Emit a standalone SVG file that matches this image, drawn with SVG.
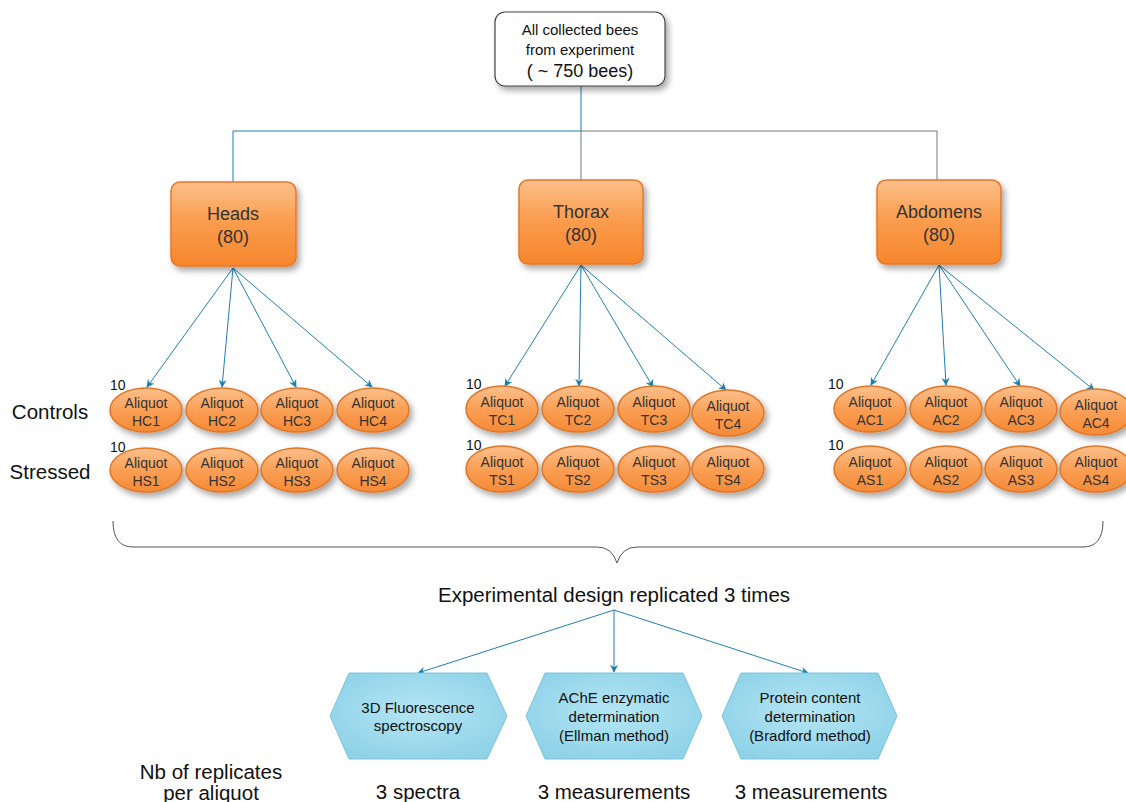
<svg xmlns="http://www.w3.org/2000/svg" width="1126" height="802" viewBox="0 0 1126 802">
<defs>
<linearGradient id="gBox" x1="0" y1="0" x2="0" y2="1">
<stop offset="0" stop-color="#fcc08a"/><stop offset="0.45" stop-color="#fa9e50"/><stop offset="1" stop-color="#f6862c"/>
</linearGradient>
<linearGradient id="gEl" x1="0" y1="0" x2="0" y2="1">
<stop offset="0" stop-color="#fcc08c"/><stop offset="0.5" stop-color="#fa9f55"/><stop offset="1" stop-color="#f58a35"/>
</linearGradient>
<radialGradient id="gHex" cx="0.5" cy="0.45" r="0.6">
<stop offset="0" stop-color="#b4e6f4"/><stop offset="1" stop-color="#8fd2e8"/>
</radialGradient>
<filter id="sh" x="-20%" y="-20%" width="150%" height="160%">
<feGaussianBlur in="SourceAlpha" stdDeviation="3"/>
<feOffset dx="3" dy="4" result="b"/>
<feComponentTransfer><feFuncA type="linear" slope="0.35"/></feComponentTransfer>
<feMerge><feMergeNode/><feMergeNode in="SourceGraphic"/></feMerge>
</filter>
<marker id="ar" viewBox="0 0 10 10" refX="9" refY="5" markerWidth="8" markerHeight="8" orient="auto" markerUnits="userSpaceOnUse">
<path d="M0,0 L10,5 L0,10 L3,5 Z" fill="#1f7fb0"/>
</marker>
</defs>
<style>
text{font-family:"Liberation Sans",Arial,sans-serif;fill:#222;text-anchor:middle}
.box{fill:url(#gBox);stroke:#e8772a;stroke-width:1.5}
.el{fill:url(#gEl);stroke:#e07628;stroke-width:1.5}
.hex{fill:url(#gHex);stroke:#7cc4dc;stroke-width:1}
.a{stroke:#1f7fb0;stroke-width:1;fill:none;marker-end:url(#ar)}
.t{font-size:14px;fill:#333}
.h{font-size:15px;fill:#111}
.bt{font-size:18px;fill:#333}
.big{font-size:20.5px;fill:#111}
.ten{font-size:14px;fill:#111;text-anchor:start}
</style>
<rect width="1126" height="802" fill="#fff"/>

<g id="connectors">
<path d="M581,86 V131 H233 V182" stroke="#1f7fb0" stroke-width="1" fill="none"/>
<path d="M581,131 H937 V180 M581,131 V180" stroke="#777" stroke-width="1" fill="none"/>
<path class="a" d="M233,268 L147,387"/>
<path class="a" d="M233,268 L222,387"/>
<path class="a" d="M233,268 L296,387"/>
<path class="a" d="M233,268 L372,387"/>
<path class="a" d="M581,265 L505,386"/>
<path class="a" d="M581,265 L579,386"/>
<path class="a" d="M581,265 L653,387"/>
<path class="a" d="M581,265 L726,390"/>
<path class="a" d="M939,265 L871,385"/>
<path class="a" d="M939,265 L946,385"/>
<path class="a" d="M939,265 L1020,386"/>
<path class="a" d="M939,265 L1094,390"/>
<path class="a" d="M614,610 L418,673"/>
<path class="a" d="M614,610 L614,672"/>
<path class="a" d="M614,610 L808,673"/>
<path d="M113,521 Q113,547 133,547 H597 Q612,547 617,563 Q622,547 637,547 H1083 Q1103,547 1103,521" stroke="#555" stroke-width="1" fill="none"/>
</g>

<g id="top">
<rect x="495" y="12" width="170" height="74" rx="10" fill="#fff" stroke="#444" stroke-width="1.2" filter="url(#sh)"/>
<text x="580" y="35" style="font-size:15px;fill:#111">All collected bees</text>
<text x="580" y="55" style="font-size:15px;fill:#111">from experiment</text>
<text x="580" y="77" style="font-size:18px;fill:#111">( ~ 750 bees)</text>
</g>

<g id="heads"><rect class="box" x="171" y="182" width="125" height="84" rx="9" filter="url(#sh)"/>
<text x="233" y="220" class="bt">Heads</text><text x="233" y="243" class="bt">(80)</text></g>
<g id="thorax"><rect class="box" x="519" y="180" width="124" height="84" rx="9" filter="url(#sh)"/>
<text x="581" y="218" class="bt">Thorax</text><text x="581" y="241" class="bt">(80)</text></g>
<g id="abdomens"><rect class="box" x="877" y="180" width="124" height="84" rx="9" filter="url(#sh)"/>
<text x="939" y="218" class="bt">Abdomens</text><text x="939" y="241" class="bt">(80)</text></g>

<text x="50" y="419" class="big">Controls</text>
<text x="50" y="479" class="big">Stressed</text>
<text x="110" y="390" class="ten">10</text>
<text x="110" y="452" class="ten">10</text>
<text x="466" y="389" class="ten">10</text>
<text x="466" y="450" class="ten">10</text>
<text x="828" y="389" class="ten">10</text>
<text x="828" y="450" class="ten">10</text>

<g id="HC1"><ellipse class="el" cx="146" cy="410" rx="36" ry="22" filter="url(#sh)"/><text x="146" y="408" class="t">Aliquot</text><text x="146" y="426" class="t">HC1</text></g>
<g id="HC2"><ellipse class="el" cx="222" cy="410" rx="36" ry="22" filter="url(#sh)"/><text x="222" y="408" class="t">Aliquot</text><text x="222" y="426" class="t">HC2</text></g>
<g id="HC3"><ellipse class="el" cx="297" cy="410" rx="36" ry="22" filter="url(#sh)"/><text x="297" y="408" class="t">Aliquot</text><text x="297" y="426" class="t">HC3</text></g>
<g id="HC4"><ellipse class="el" cx="373" cy="410" rx="36" ry="22" filter="url(#sh)"/><text x="373" y="408" class="t">Aliquot</text><text x="373" y="426" class="t">HC4</text></g>
<g id="HS1"><ellipse class="el" cx="146" cy="470" rx="36" ry="22" filter="url(#sh)"/><text x="146" y="468" class="t">Aliquot</text><text x="146" y="486" class="t">HS1</text></g>
<g id="HS2"><ellipse class="el" cx="222" cy="470" rx="36" ry="22" filter="url(#sh)"/><text x="222" y="468" class="t">Aliquot</text><text x="222" y="486" class="t">HS2</text></g>
<g id="HS3"><ellipse class="el" cx="297" cy="470" rx="36" ry="22" filter="url(#sh)"/><text x="297" y="468" class="t">Aliquot</text><text x="297" y="486" class="t">HS3</text></g>
<g id="HS4"><ellipse class="el" cx="373" cy="470" rx="36" ry="22" filter="url(#sh)"/><text x="373" y="468" class="t">Aliquot</text><text x="373" y="486" class="t">HS4</text></g>

<g id="TC1"><ellipse class="el" cx="502" cy="409" rx="36" ry="23" filter="url(#sh)"/><text x="502" y="407" class="t">Aliquot</text><text x="502" y="425" class="t">TC1</text></g>
<g id="TC2"><ellipse class="el" cx="578" cy="409" rx="36" ry="23" filter="url(#sh)"/><text x="578" y="407" class="t">Aliquot</text><text x="578" y="425" class="t">TC2</text></g>
<g id="TC3"><ellipse class="el" cx="654" cy="409" rx="36" ry="23" filter="url(#sh)"/><text x="654" y="407" class="t">Aliquot</text><text x="654" y="425" class="t">TC3</text></g>
<g id="TC4"><ellipse class="el" cx="728" cy="413" rx="36" ry="23" filter="url(#sh)"/><text x="728" y="411" class="t">Aliquot</text><text x="728" y="429" class="t">TC4</text></g>
<g id="TS1"><ellipse class="el" cx="502" cy="469" rx="36" ry="23" filter="url(#sh)"/><text x="502" y="467" class="t">Aliquot</text><text x="502" y="485" class="t">TS1</text></g>
<g id="TS2"><ellipse class="el" cx="578" cy="469" rx="36" ry="23" filter="url(#sh)"/><text x="578" y="467" class="t">Aliquot</text><text x="578" y="485" class="t">TS2</text></g>
<g id="TS3"><ellipse class="el" cx="654" cy="469" rx="36" ry="23" filter="url(#sh)"/><text x="654" y="467" class="t">Aliquot</text><text x="654" y="485" class="t">TS3</text></g>
<g id="TS4"><ellipse class="el" cx="728" cy="469" rx="36" ry="23" filter="url(#sh)"/><text x="728" y="467" class="t">Aliquot</text><text x="728" y="485" class="t">TS4</text></g>

<g id="AC1"><ellipse class="el" cx="870" cy="409" rx="36" ry="23" filter="url(#sh)"/><text x="870" y="407" class="t">Aliquot</text><text x="870" y="425" class="t">AC1</text></g>
<g id="AC2"><ellipse class="el" cx="946" cy="409" rx="36" ry="23" filter="url(#sh)"/><text x="946" y="407" class="t">Aliquot</text><text x="946" y="425" class="t">AC2</text></g>
<g id="AC3"><ellipse class="el" cx="1021" cy="409" rx="36" ry="23" filter="url(#sh)"/><text x="1021" y="407" class="t">Aliquot</text><text x="1021" y="425" class="t">AC3</text></g>
<g id="AC4"><ellipse class="el" cx="1096" cy="412" rx="36" ry="23" filter="url(#sh)"/><text x="1096" y="410" class="t">Aliquot</text><text x="1096" y="428" class="t">AC4</text></g>
<g id="AS1"><ellipse class="el" cx="870" cy="469" rx="36" ry="23" filter="url(#sh)"/><text x="870" y="467" class="t">Aliquot</text><text x="870" y="485" class="t">AS1</text></g>
<g id="AS2"><ellipse class="el" cx="946" cy="469" rx="36" ry="23" filter="url(#sh)"/><text x="946" y="467" class="t">Aliquot</text><text x="946" y="485" class="t">AS2</text></g>
<g id="AS3"><ellipse class="el" cx="1021" cy="469" rx="36" ry="23" filter="url(#sh)"/><text x="1021" y="467" class="t">Aliquot</text><text x="1021" y="485" class="t">AS3</text></g>
<g id="AS4"><ellipse class="el" cx="1096" cy="469" rx="36" ry="23" filter="url(#sh)"/><text x="1096" y="467" class="t">Aliquot</text><text x="1096" y="485" class="t">AS4</text></g>

<text x="614" y="602" style="font-size:20.5px;fill:#111">Experimental design replicated 3 times</text>

<g id="fluo"><polygon class="hex" points="349,673 487,673 507,716 487,759 349,759 330,716"/>
<text x="418" y="713" class="h">3D Fluorescence</text><text x="418" y="731" class="h">spectroscopy</text></g>
<g id="ache"><polygon class="hex" points="545,673 683,673 702,716 683,759 545,759 526,716"/>
<text x="614" y="703" class="h">AChE enzymatic</text><text x="614" y="722" class="h">determination</text><text x="614" y="741" class="h">(Ellman method)</text></g>
<g id="protein"><polygon class="hex" points="741,673 878,673 897,716 878,759 741,759 722,716"/>
<text x="810" y="703" class="h">Protein content</text><text x="810" y="722" class="h">determination</text><text x="810" y="741" class="h">(Bradford method)</text></g>

<text x="211" y="779" class="big">Nb of replicates</text>
<text x="211" y="800" class="big">per aliquot</text>
<text x="418" y="799" class="big">3 spectra</text>
<text x="614" y="799" class="big">3 measurements</text>
<text x="811" y="799" class="big">3 measurements</text>
</svg>
